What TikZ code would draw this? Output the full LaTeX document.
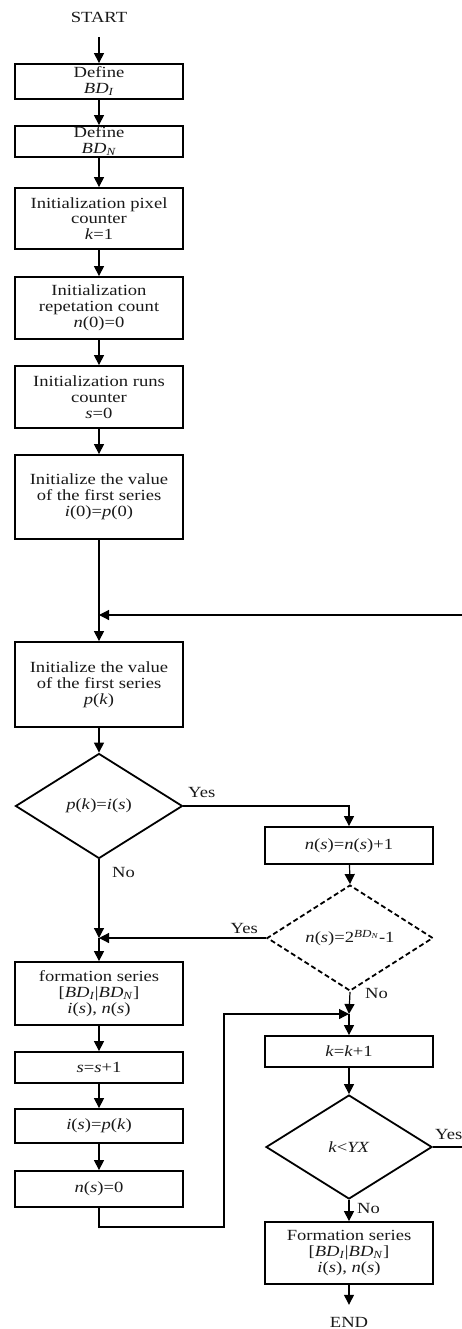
\documentclass[tikz,border=0pt]{standalone}
\usepackage{fontspec}
\setmainfont{Liberation Serif}[FakeStretch=1.2]
\usetikzlibrary{arrows.meta,shapes.geometric}
\newcommand{\vi}[1]{\textit{#1}}
\begin{document}
\begin{tikzpicture}[x=1pt,y=-1pt,
  every node/.style={font=\fontsize{15.5}{15.8}\selectfont, text=black!90},
  box/.style={draw=black, line width=1.8pt, rectangle, minimum width=168pt, align=center, inner sep=1pt},
  dec/.style={draw=black, line width=1.8pt, diamond, minimum width=167pt, minimum height=105pt, inner sep=0pt, align=center},
  conn/.style={line width=1.2pt, -{Triangle[length=10pt,width=10pt]}},
  plain/.style={line width=1.2pt},
  lbl/.style={inner sep=0pt}]
\useasboundingbox (0,0) rectangle (461,1329);

% left column
\node[minimum height=40pt] (start) at (99,17) {START};
\node[box, minimum height=35pt] (bdi) at (99,81.5) {Define\\\vi{BD}\textsubscript{\vi{I}}};
\node[box, minimum height=31pt] (bdn) at (99,141.5) {Define\\\vi{BD}\textsubscript{\vi{N}}};
\node[box, minimum height=61pt] (k1) at (99,218.5) {Initialization pixel\\counter\\\vi{k}=1};
\node[box, minimum height=62pt] (n0) at (99,308) {Initialization\\repetation count\\\vi{n}(0)=0};
\node[box, minimum height=62pt] (s0) at (99,397) {Initialization runs\\counter\\\vi{s}=0};
\node[box, minimum height=84pt] (i0) at (99,497) {Initialize the value\\of the first series\\\vi{i}(0)=\vi{p}(0)};
\coordinate (join1) at (99,615);
\node[box, minimum height=85pt] (pk) at (99,684.5) {Initialize the value\\of the first series\\\vi{p}(\vi{k})};
\node[dec] (d1) at (99,806) {\vi{p}(\vi{k})=\vi{i}(\vi{s})};
\coordinate (join2) at (99,938);
\node[box, minimum height=63pt] (form1) at (99,993.5) {formation series\\{[}\vi{BD}\textsubscript{\vi{I}}|\vi{BD}\textsubscript{\vi{N}}]\\\vi{i}(\vi{s}), \vi{n}(\vi{s})};
\node[box, minimum height=31pt] (ss1) at (99,1067.5) {\vi{s}=\vi{s}+1};
\node[box, minimum height=34pt] (isp) at (99,1126) {\vi{i}(\vi{s})=\vi{p}(\vi{k})};
\node[box, minimum height=36pt] (ns0) at (99,1189) {\vi{n}(\vi{s})=0};
\coordinate (lp) at (224,1227);

% right column
\node[box, minimum height=37pt] (nsp1) at (349,845.5) {\vi{n}(\vi{s})=\vi{n}(\vi{s})+1};
\node[dec, dash pattern=on 5pt off 3pt, minimum width=166pt, minimum height=106pt] (d2) at (350,938) {\vi{n}(\vi{s})=2\textsuperscript{\vi{BD}\textsubscript{\vi{N}}}-1};
\coordinate (join3) at (349,1014);
\node[box, minimum height=31pt] (kk1) at (349,1051.5) {\vi{k}=\vi{k}+1};
\node[dec, minimum width=166pt, minimum height=104pt] (d3) at (349,1147) {\vi{k}<\vi{YX}};
\node[box, minimum height=62pt] (form2) at (349,1253) {Formation series\\{[}\vi{BD}\textsubscript{\vi{I}}|\vi{BD}\textsubscript{\vi{N}}]\\\vi{i}(\vi{s}), \vi{n}(\vi{s})};
\node[minimum height=34pt] (end) at (349,1322) {END};
\coordinate (rx) at (495,1147);

% labels
\node[lbl, anchor=west] (y1) at (188,792) {Yes};
\node[lbl, anchor=west] (n1) at (112,872) {No};
\node[lbl, anchor=east] (y2) at (258,928) {Yes};
\node[lbl, anchor=west] (n2) at (365,993) {No};
\node[lbl, anchor=west] (y3) at (435,1134) {Yes};
\node[lbl, anchor=west] (n3) at (357,1208) {No};

% connectors
\draw[conn] (start) -- (bdi);
\draw[conn] (bdi) -- (bdn);
\draw[conn] (bdn) -- (k1);
\draw[conn] (k1) -- (n0);
\draw[conn] (n0) -- (s0);
\draw[conn] (s0) -- (i0);
\draw[plain] (i0) -- (join1);
\draw[conn] (join1) -- (pk);
\draw[conn] (pk) -- (d1);
\draw[conn] (d1.east) -| (nsp1.north);
\draw[conn] (d1.south) -- (join2);
\draw[conn] (join2) -- (form1);
\draw[conn] (nsp1) -- (d2.north);
\draw[conn] (d2.west) -- (join2);
\draw[conn] (d2.south) -- (join3);
\draw[conn] (join3) -- (kk1);
\draw[conn] (form1) -- (ss1);
\draw[conn] (ss1) -- (isp);
\draw[conn] (isp) -- (ns0);
\draw[conn] (ns0.south) |- (lp) |- (join3);
\draw[conn] (kk1) -- (d3.north);
\draw[conn] (d3.south) -- (form2);
\draw[conn] (form2) -- (end);
\draw[conn] (d3.east) -- (rx) |- (join1);
\end{tikzpicture}
\end{document}
